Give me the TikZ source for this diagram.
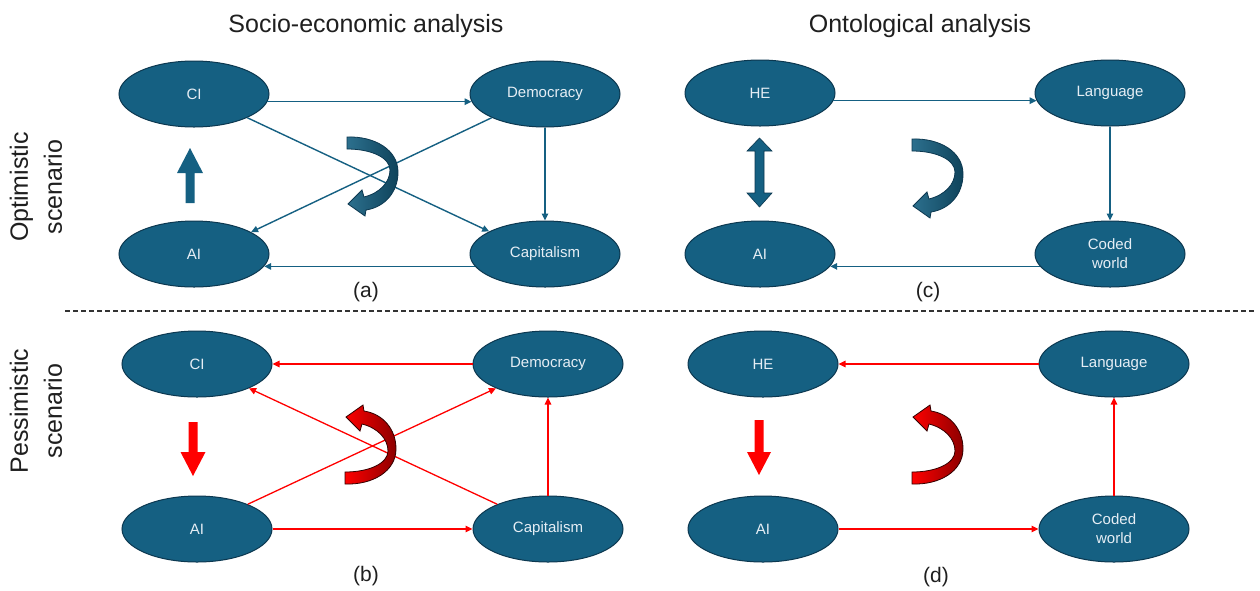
\documentclass[tikz,border=0pt]{standalone}
\usepackage{fontspec}
\setmainfont{Liberation Sans}
\usetikzlibrary{arrows.meta,shapes.geometric}
\definecolor{nfill}{HTML}{156082}
\definecolor{nline}{HTML}{0C3850}
\definecolor{ntext}{HTML}{E6EEF5}
\definecolor{rlin}{HTML}{FF0000}
\definecolor{rdark}{HTML}{8C0000}
\definecolor{dashc}{HTML}{333333}
\newcommand\cvpath{(0,-39) .. controls (28,-40) and (51,-26) .. (51,-4) .. controls (51,16) and (38,31) .. (19,34) -- (18,40) -- (1,28) -- (15,14) -- (17,21) .. controls (33,17) and (43,6) .. (43,-6) .. controls (43,-18) and (25,-27) .. (0,-27) -- cycle}
\begin{document}
\begin{tikzpicture}[x=1pt,y=-1pt,
  ell/.style={ellipse, fill=nfill, draw=nline, line width=1pt, minimum width=150pt, minimum height=66pt, inner sep=0pt, text=ntext, font=\fontsize{15}{19}\selectfont, align=center},
  bconn/.style={draw=nfill, line width=1.4pt, -{Triangle[length=7pt,width=6.5pt]}},
  rconn/.style={draw=rlin, line width=1.3pt, -{Triangle[length=7pt,width=6.5pt]}},
  ttl/.style={font=\fontsize{25}{30}\selectfont, anchor=base, text=black!88},
  side/.style={font=\fontsize{25}{34}\selectfont, rotate=90, align=center, text=black!88},
  lab/.style={font=\fontsize{21}{25}\selectfont, text=black!88},
  bigblue/.style={fill=nfill, draw=nline, line width=0.6pt},
  bigred/.style={fill=rlin, draw=none},
  curvblue/.style={left color=nfill!90!white, right color=nfill!70!black, draw=nline, line width=0.8pt},
  curvred/.style={left color=rlin, right color=rdark, draw=black!80!red, line width=0.8pt}
]
\fill[white] (0,0) rectangle (1260,590);
\useasboundingbox (0,0) rectangle (1260,590);

% titles and side labels
\node[ttl] (t1) at (366,32) {Socio-economic analysis};
\node[ttl] (t2) at (920,32) {Ontological analysis};
\node[side] (s1) at (36,187) {Optimistic\\scenario};
\node[side] (s2) at (36,411) {Pessimistic\\scenario};

% separator
\coordinate (dl) at (65,311);
\coordinate (dr) at (1255,311);
\draw[dashc, line width=1.1pt, dash pattern=on 5pt off 3pt] (dl) -- (dr);

% ---------- (a)
\node[ell] (aCI)  at (194,94)  {CI};
\node[ell] (aDem) at (545,94)  {Democracy};
\node[ell] (aAI)  at (194,254) {AI};
\node[ell] (aCap) at (545,254) {Capitalism};
\draw[bconn] (aCI.-6) -- (aDem.186);
\draw[bconn] (aCI.-24) -- (aCap.158);
\draw[bconn] (aDem.204) -- (aAI.21);
\draw[bconn] (aDem.south) -- (aCap.north);
\draw[bconn] (aCap.190) -- (aAI.-10);
\draw[bigblue, draw=none] (185.5,203) -- (185.5,173) -- (177,173) -- (190,148) -- (203,173) -- (194.5,173) -- (194.5,203) -- cycle;
\begin{scope}[shift={(347,176)}]
  \path[curvblue] \cvpath;
\end{scope}
\node[lab] (la) at (366,292) {(a)};

% ---------- (b)
\node[ell] (bCI)  at (197,364) {CI};
\node[ell] (bDem) at (548,364) {Democracy};
\node[ell] (bAI)  at (197,529) {AI};
\node[ell] (bCap) at (548,529) {Capitalism};
\draw[rconn] (bDem.west) -- (bCI.east);
\draw[rconn] (bCap.154) -- (bCI.-25);
\draw[rconn] (bAI.26) -- (bDem.205);
\draw[rconn] (bCap.north) -- (bDem.south);
\draw[rconn] (bAI.east) -- (bCap.west);
\fill[rlin] (188.5,422) -- (197.5,422) -- (197.5,452) -- (205.5,452) -- (193,476) -- (180.5,452) -- (188.5,452) -- cycle;
\begin{scope}[shift={(345,445)}, yscale=-1]
  \path[curvred] \cvpath;
\end{scope}
\node[lab] (lb) at (366,576) {(b)};

% ---------- (c)
\node[ell] (cHE)   at (760,93)   {HE};
\node[ell] (cLang) at (1110,93)  {Language};
\node[ell] (cAI)   at (760,254)  {AI};
\node[ell] (cCW)   at (1110,254) {Coded\\world};
\draw[bconn] (cHE.-6) -- (cLang.186);
\draw[bconn] (cLang.south) -- (cCW.north);
\draw[bconn] (cCW.190) -- (cAI.-10);
\draw[bigblue] (759.5,138) -- (772,151) -- (764,151) -- (764,193) -- (772,193) -- (759.5,207) -- (747,193) -- (755,193) -- (755,151) -- (747,151) -- cycle;
\begin{scope}[shift={(912,178)}]
  \path[curvblue] \cvpath;
\end{scope}
\node[lab] (lc) at (928,292) {(c)};

% ---------- (d)
\node[ell] (dHE)   at (763,364)  {HE};
\node[ell] (dLang) at (1114,364) {Language};
\node[ell] (dAI)   at (763,529)  {AI};
\node[ell] (dCW)   at (1114,529) {Coded\\world};
\draw[rconn] (dLang.west) -- (dHE.east);
\draw[rconn] (dAI.east) -- (dCW.west);
\draw[rconn] (dCW.north) -- (dLang.south);
\fill[rlin] (754.5,420) -- (763.5,420) -- (763.5,452) -- (771,452) -- (759,475) -- (747,452) -- (754.5,452) -- cycle;
\begin{scope}[shift={(912,445)}, yscale=-1]
  \path[curvred] \cvpath;
\end{scope}
\node[lab] (ld) at (936,577) {(d)};
\end{tikzpicture}
\end{document}
